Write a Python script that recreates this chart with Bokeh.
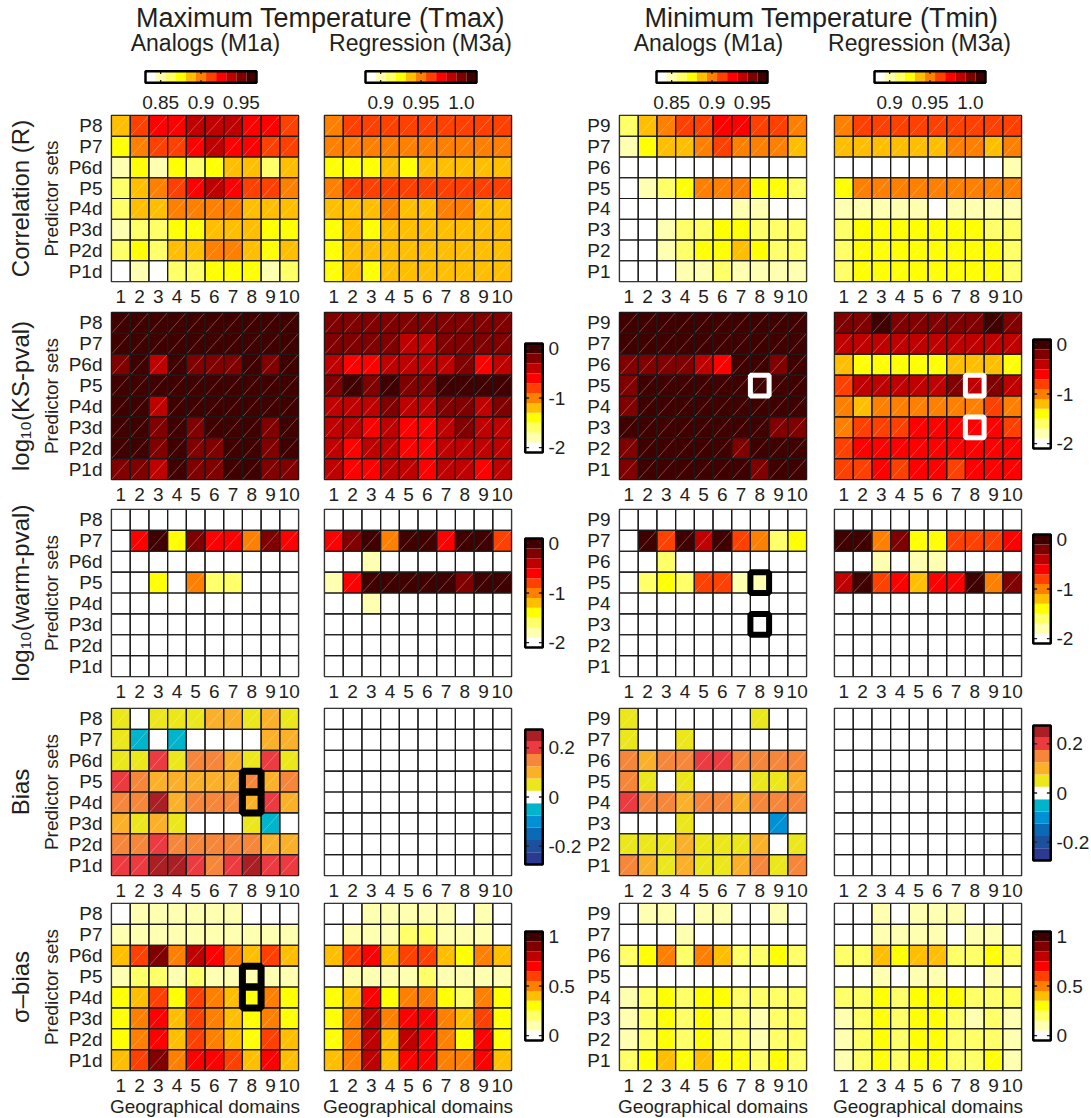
import numpy as np
from bokeh.plotting import figure
from bokeh.models import (Range1d, FixedTicker, Title, Label, Spacer,
                          LinearColorMapper, ColumnDataSource)
from bokeh.layouts import row, column
from bokeh.transform import transform
from bokeh.embed import file_html
from bokeh.resources import INLINE

FONT = "Liberation Sans"
TXT = "#231f20"

# ---------------- data ----------------
domains = [1, 2, 3, 4, 5, 6, 7, 8, 9, 10]
sets_tmax = ["P8", "P7", "P6d", "P5", "P4d", "P3d", "P2d", "P1d"]   # top -> bottom
sets_tmin = ["P9", "P7", "P6", "P5", "P4", "P3", "P2", "P1"]

# Correlation (R)
tmax_corr_analog = [
    [0.887, 0.912, 0.925, 0.925, 0.937, 0.937, 0.937, 0.925, 0.925, 0.912],
    [0.875, 0.900, 0.912, 0.912, 0.925, 0.937, 0.925, 0.925, 0.912, 0.912],
    [0.850, 0.875, 0.850, 0.875, 0.862, 0.875, 0.887, 0.887, 0.862, 0.887],
    [0.862, 0.887, 0.900, 0.912, 0.925, 0.937, 0.925, 0.912, 0.912, 0.900],
    [0.862, 0.887, 0.887, 0.900, 0.900, 0.900, 0.900, 0.887, 0.887, 0.887],
    [0.850, 0.862, 0.862, 0.875, 0.875, 0.887, 0.887, 0.887, 0.875, 0.875],
    [0.862, 0.875, 0.862, 0.887, 0.887, 0.900, 0.900, 0.887, 0.875, 0.887],
    [0.835, 0.850, 0.835, 0.862, 0.862, 0.875, 0.875, 0.875, 0.850, 0.862],
]
tmax_corr_regr = [
    [0.950, 0.962, 0.962, 0.962, 0.962, 0.962, 0.962, 0.962, 0.962, 0.962],
    [0.950, 0.950, 0.950, 0.950, 0.950, 0.950, 0.950, 0.950, 0.950, 0.950],
    [0.925, 0.925, 0.925, 0.937, 0.925, 0.937, 0.937, 0.937, 0.937, 0.937],
    [0.950, 0.962, 0.962, 0.962, 0.962, 0.962, 0.962, 0.962, 0.962, 0.962],
    [0.937, 0.937, 0.937, 0.950, 0.937, 0.937, 0.950, 0.950, 0.937, 0.937],
    [0.925, 0.937, 0.925, 0.937, 0.937, 0.937, 0.937, 0.937, 0.937, 0.937],
    [0.925, 0.937, 0.937, 0.937, 0.937, 0.937, 0.937, 0.937, 0.937, 0.937],
    [0.925, 0.937, 0.925, 0.937, 0.937, 0.937, 0.937, 0.937, 0.937, 0.937],
]
tmin_corr_analog = [
    [0.862, 0.887, 0.900, 0.912, 0.912, 0.925, 0.925, 0.912, 0.912, 0.900],
    [0.850, 0.875, 0.887, 0.887, 0.900, 0.912, 0.900, 0.900, 0.900, 0.887],
    [0.835, 0.835, 0.835, 0.835, 0.835, 0.835, 0.835, 0.835, 0.835, 0.835],
    [0.835, 0.850, 0.862, 0.875, 0.900, 0.900, 0.900, 0.875, 0.875, 0.862],
    [0.835, 0.835, 0.835, 0.835, 0.835, 0.835, 0.850, 0.850, 0.835, 0.835],
    [0.835, 0.835, 0.850, 0.862, 0.862, 0.875, 0.875, 0.862, 0.862, 0.862],
    [0.835, 0.835, 0.850, 0.862, 0.875, 0.875, 0.887, 0.875, 0.862, 0.862],
    [0.835, 0.835, 0.835, 0.850, 0.850, 0.862, 0.850, 0.850, 0.850, 0.850],
]
tmin_corr_regr = [
    [0.950, 0.962, 0.962, 0.962, 0.962, 0.962, 0.962, 0.962, 0.962, 0.962],
    [0.937, 0.937, 0.937, 0.937, 0.937, 0.937, 0.950, 0.950, 0.937, 0.950],
    [0.887, 0.887, 0.887, 0.887, 0.887, 0.887, 0.887, 0.887, 0.887, 0.900],
    [0.925, 0.950, 0.950, 0.950, 0.950, 0.950, 0.950, 0.950, 0.950, 0.950],
    [0.900, 0.900, 0.900, 0.900, 0.900, 0.887, 0.900, 0.900, 0.900, 0.900],
    [0.912, 0.925, 0.925, 0.925, 0.925, 0.925, 0.925, 0.925, 0.912, 0.912],
    [0.912, 0.925, 0.925, 0.925, 0.925, 0.925, 0.925, 0.925, 0.925, 0.912],
    [0.912, 0.925, 0.925, 0.925, 0.925, 0.925, 0.925, 0.925, 0.925, 0.912],
]

# log10(KS-pval)
tmax_ks_analog = [
    [-0.02, -0.03, -0.02, -0.01, -0.03, -0.02, -0.02, -0.01, -0.03, -0.02],
    [-0.03, -0.02, -0.02, -0.03, -0.02, -0.01, -0.02, -0.03, -0.02, -0.02],
    [-0.22, -0.05, -0.42, -0.04, -0.18, -0.21, -0.19, -0.06, -0.23, -0.05],
    [-0.02, -0.03, -0.04, -0.02, -0.03, -0.02, -0.04, -0.03, -0.02, -0.03],
    [-0.04, -0.05, -0.41, -0.03, -0.05, -0.04, -0.05, -0.03, -0.04, -0.05],
    [-0.05, -0.06, -0.19, -0.04, -0.21, -0.07, -0.05, -0.06, -0.22, -0.05],
    [-0.04, -0.05, -0.20, -0.05, -0.18, -0.19, -0.06, -0.05, -0.21, -0.04],
    [-0.18, -0.20, -0.38, -0.07, -0.21, -0.22, -0.06, -0.08, -0.19, -0.20],
]
tmax_ks_regr = [
    [-0.21, -0.18, -0.20, -0.22, -0.19, -0.20, -0.21, -0.18, -0.20, -0.19],
    [-0.20, -0.19, -0.22, -0.21, -0.42, -0.40, -0.20, -0.19, -0.21, -0.20],
    [-0.40, -0.62, -0.60, -0.41, -0.38, -0.42, -0.40, -0.22, -0.61, -0.39],
    [-0.20, -0.05, -0.19, -0.04, -0.21, -0.20, -0.06, -0.03, -0.05, -0.04],
    [-0.40, -0.42, -0.39, -0.21, -0.41, -0.40, -0.20, -0.22, -0.38, -0.19],
    [-0.41, -0.40, -0.60, -0.39, -0.62, -0.61, -0.42, -0.21, -0.40, -0.41],
    [-0.40, -0.60, -0.42, -0.41, -0.62, -0.60, -0.39, -0.40, -0.41, -0.42],
    [-0.42, -0.61, -0.60, -0.40, -0.41, -0.62, -0.39, -0.40, -0.60, -0.41],
]
tmin_ks_analog = [
    [-0.02, -0.03, -0.02, -0.01, -0.02, -0.03, -0.02, -0.02, -0.03, -0.02],
    [-0.03, -0.02, -0.02, -0.03, -0.02, -0.02, -0.01, -0.02, -0.03, -0.02],
    [-0.20, -0.21, -0.19, -0.22, -0.40, -0.60, -0.05, -0.06, -0.20, -0.04],
    [-0.21, -0.04, -0.05, -0.03, -0.04, -0.05, -0.06, -0.03, -0.04, -0.05],
    [-0.20, -0.05, -0.04, -0.05, -0.03, -0.04, -0.05, -0.06, -0.04, -0.05],
    [-0.06, -0.05, -0.04, -0.05, -0.06, -0.05, -0.07, -0.06, -0.22, -0.21],
    [-0.21, -0.06, -0.05, -0.06, -0.05, -0.07, -0.20, -0.06, -0.05, -0.06],
    [-0.20, -0.06, -0.07, -0.05, -0.06, -0.05, -0.07, -0.21, -0.06, -0.05],
]
tmin_ks_regr = [
    [-0.20, -0.19, -0.08, -0.21, -0.20, -0.19, -0.20, -0.21, -0.07, -0.20],
    [-0.40, -0.41, -0.39, -0.42, -0.40, -0.41, -0.40, -0.39, -0.41, -0.40],
    [-1.20, -1.40, -1.42, -1.38, -1.40, -1.41, -1.22, -1.20, -1.19, -1.40],
    [-0.80, -0.41, -0.40, -0.42, -0.39, -0.41, -0.20, -0.40, -0.21, -0.42],
    [-1.00, -1.20, -1.02, -0.98, -1.00, -1.01, -0.99, -1.00, -0.80, -1.00],
    [-1.00, -0.80, -0.82, -0.79, -0.60, -0.61, -0.60, -0.62, -0.59, -0.81],
    [-0.80, -0.60, -0.61, -0.60, -0.59, -0.60, -0.62, -0.60, -0.61, -0.60],
    [-0.81, -0.80, -0.60, -0.79, -0.61, -0.60, -0.80, -0.60, -0.62, -0.60],
]

# log10(warm-pval)
tmax_warm_analog = [
    [-2.0, -2.0, -2.0, -2.0, -2.0, -2.0, -2.0, -2.0, -2.0, -2.0],
    [-2.0, -0.6, -0.02, -1.4, -0.2, -0.6, -0.62, -1.0, -0.2, -0.6],
    [-2.0, -2.0, -2.0, -2.0, -2.0, -2.0, -2.0, -2.0, -2.0, -2.0],
    [-2.0, -2.0, -1.4, -2.0, -1.0, -1.6, -1.6, -2.0, -2.0, -2.0],
    [-2.0, -2.0, -2.0, -2.0, -2.0, -2.0, -2.0, -2.0, -2.0, -2.0],
    [-2.0, -2.0, -2.0, -2.0, -2.0, -2.0, -2.0, -2.0, -2.0, -2.0],
    [-2.0, -2.0, -2.0, -2.0, -2.0, -2.0, -2.0, -2.0, -2.0, -2.0],
    [-2.0, -2.0, -2.0, -2.0, -2.0, -2.0, -2.0, -2.0, -2.0, -2.0],
]
tmax_warm_regr = [
    [-2.0, -2.0, -2.0, -2.0, -2.0, -2.0, -2.0, -2.0, -2.0, -2.0],
    [-0.6, -0.2, -0.03, -1.0, -0.04, -0.05, -0.6, -0.03, -0.02, -0.8],
    [-2.0, -2.0, -1.8, -2.0, -2.0, -2.0, -2.0, -2.0, -2.0, -2.0],
    [-1.8, -0.6, -0.03, -0.02, -0.04, -0.03, -0.05, -0.2, -0.04, -0.03],
    [-2.0, -2.0, -1.8, -2.0, -2.0, -2.0, -2.0, -2.0, -2.0, -2.0],
    [-2.0, -2.0, -2.0, -2.0, -2.0, -2.0, -2.0, -2.0, -2.0, -2.0],
    [-2.0, -2.0, -2.0, -2.0, -2.0, -2.0, -2.0, -2.0, -2.0, -2.0],
    [-2.0, -2.0, -2.0, -2.0, -2.0, -2.0, -2.0, -2.0, -2.0, -2.0],
]
tmin_warm_analog = [
    [-2.0, -2.0, -2.0, -2.0, -2.0, -2.0, -2.0, -2.0, -2.0, -2.0],
    [-2.0, -0.03, -0.8, -0.02, -0.4, -0.04, -0.8, -1.0, -1.6, -1.4],
    [-2.0, -2.0, -1.6, -2.0, -2.0, -2.0, -2.0, -2.0, -2.0, -2.0],
    [-2.0, -1.6, -1.4, -1.6, -0.8, -0.8, -1.8, -1.8, -2.0, -2.0],
    [-2.0, -2.0, -2.0, -2.0, -2.0, -2.0, -2.0, -2.0, -2.0, -2.0],
    [-2.0, -2.0, -2.0, -2.0, -2.0, -2.0, -2.0, -2.0, -2.0, -2.0],
    [-2.0, -2.0, -2.0, -2.0, -2.0, -2.0, -2.0, -2.0, -2.0, -2.0],
    [-2.0, -2.0, -2.0, -2.0, -2.0, -2.0, -2.0, -2.0, -2.0, -2.0],
]
tmin_warm_regr = [
    [-2.0, -2.0, -2.0, -2.0, -2.0, -2.0, -2.0, -2.0, -2.0, -2.0],
    [-0.02, -0.04, -1.0, -0.2, -1.4, -1.4, -0.8, -0.8, -0.8, -0.6],
    [-2.0, -2.0, -1.8, -2.0, -1.8, -1.8, -2.0, -2.0, -2.0, -2.0],
    [-0.4, -0.03, -0.8, -0.6, -1.2, -0.6, -0.6, -0.04, -1.0, -0.2],
    [-2.0, -2.0, -2.0, -2.0, -2.0, -2.0, -2.0, -2.0, -2.0, -2.0],
    [-2.0, -2.0, -2.0, -2.0, -2.0, -2.0, -2.0, -2.0, -2.0, -2.0],
    [-2.0, -2.0, -2.0, -2.0, -2.0, -2.0, -2.0, -2.0, -2.0, -2.0],
    [-2.0, -2.0, -2.0, -2.0, -2.0, -2.0, -2.0, -2.0, -2.0, -2.0],
]

# Bias
tmax_bias_analog = [
    [0.05, 0.00, 0.05, 0.05, 0.05, 0.10, 0.10, 0.05, 0.10, 0.05],
    [0.05, -0.05, 0.00, -0.05, 0.00, 0.00, 0.00, 0.00, 0.10, 0.10],
    [0.05, 0.05, 0.20, 0.05, 0.15, 0.15, 0.10, 0.05, 0.20, 0.05],
    [0.20, 0.15, 0.10, 0.10, 0.10, 0.10, 0.10, 0.15, 0.10, 0.15],
    [0.15, 0.15, 0.25, 0.10, 0.15, 0.15, 0.15, 0.10, 0.20, 0.10],
    [0.10, 0.05, 0.10, 0.05, 0.00, 0.00, 0.00, 0.05, -0.05, 0.00],
    [0.15, 0.15, 0.20, 0.15, 0.15, 0.15, 0.15, 0.15, 0.10, 0.10],
    [0.20, 0.20, 0.25, 0.25, 0.20, 0.15, 0.20, 0.25, 0.20, 0.20],
]
tmax_bias_regr = [
    [0.00, 0.00, 0.00, 0.00, 0.00, 0.00, 0.00, 0.00, 0.00, 0.00],
    [0.00, 0.00, 0.00, 0.00, 0.00, 0.00, 0.00, 0.00, 0.00, 0.00],
    [0.00, 0.00, 0.00, 0.00, 0.00, 0.00, 0.00, 0.00, 0.00, 0.00],
    [0.00, 0.00, 0.00, 0.00, 0.00, 0.00, 0.00, 0.00, 0.00, 0.00],
    [0.00, 0.00, 0.00, 0.00, 0.00, 0.00, 0.00, 0.00, 0.00, 0.00],
    [0.00, 0.00, 0.00, 0.00, 0.00, 0.00, 0.00, 0.00, 0.00, 0.00],
    [0.00, 0.00, 0.00, 0.00, 0.00, 0.00, 0.00, 0.00, 0.00, 0.00],
    [0.00, 0.00, 0.00, 0.00, 0.00, 0.00, 0.00, 0.00, 0.00, 0.00],
]
tmin_bias_analog = [
    [0.05, 0.00, 0.00, 0.00, 0.00, 0.00, 0.00, 0.05, 0.00, 0.00],
    [0.05, 0.00, 0.00, 0.05, 0.00, 0.00, 0.00, 0.00, 0.00, 0.00],
    [0.15, 0.10, 0.15, 0.15, 0.20, 0.20, 0.15, 0.15, 0.15, 0.15],
    [0.15, 0.05, 0.00, 0.05, 0.00, 0.00, 0.00, 0.05, 0.05, 0.10],
    [0.20, 0.15, 0.15, 0.10, 0.15, 0.15, 0.10, 0.15, 0.15, 0.15],
    [0.00, 0.00, 0.00, 0.05, 0.00, 0.00, 0.00, 0.00, -0.10, 0.00],
    [0.05, 0.05, 0.05, 0.10, 0.05, 0.05, 0.05, 0.10, 0.00, 0.05],
    [0.15, 0.10, 0.05, 0.10, 0.05, 0.05, 0.10, 0.15, 0.05, 0.15],
]
tmin_bias_regr = [
    [0.00, 0.00, 0.00, 0.00, 0.00, 0.00, 0.00, 0.00, 0.00, 0.00],
    [0.00, 0.00, 0.00, 0.00, 0.00, 0.00, 0.00, 0.00, 0.00, 0.00],
    [0.00, 0.00, 0.00, 0.00, 0.00, 0.00, 0.00, 0.00, 0.00, 0.00],
    [0.00, 0.00, 0.00, 0.00, 0.00, 0.00, 0.00, 0.00, 0.00, 0.00],
    [0.00, 0.00, 0.00, 0.00, 0.00, 0.00, 0.00, 0.00, 0.00, 0.00],
    [0.00, 0.00, 0.00, 0.00, 0.00, 0.00, 0.00, 0.00, 0.00, 0.00],
    [0.00, 0.00, 0.00, 0.00, 0.00, 0.00, 0.00, 0.00, 0.00, 0.00],
    [0.00, 0.00, 0.00, 0.00, 0.00, 0.00, 0.00, 0.00, 0.00, 0.00],
]

# sigma-bias
tmax_sig_analog = [
    [0.0, 0.1, 0.1, 0.1, 0.1, 0.1, 0.1, 0.0, 0.0, 0.0],
    [0.1, 0.1, 0.1, 0.1, 0.1, 0.1, 0.1, 0.1, 0.1, 0.1],
    [0.4, 0.6, 0.9, 0.5, 0.8, 0.7, 0.5, 0.4, 0.6, 0.4],
    [0.1, 0.2, 0.2, 0.1, 0.2, 0.1, 0.1, 0.1, 0.1, 0.1],
    [0.3, 0.4, 0.6, 0.3, 0.6, 0.5, 0.4, 0.3, 0.5, 0.3],
    [0.3, 0.5, 0.7, 0.4, 0.6, 0.5, 0.4, 0.3, 0.5, 0.3],
    [0.3, 0.5, 0.7, 0.4, 0.6, 0.5, 0.4, 0.3, 0.6, 0.4],
    [0.4, 0.6, 0.9, 0.5, 0.7, 0.7, 0.6, 0.4, 0.7, 0.4],
]
tmax_sig_regr = [
    [0.0, 0.0, 0.1, 0.1, 0.1, 0.1, 0.1, 0.0, 0.1, 0.0],
    [0.0, 0.1, 0.1, 0.1, 0.2, 0.2, 0.1, 0.1, 0.1, 0.0],
    [0.4, 0.6, 0.7, 0.4, 0.6, 0.6, 0.4, 0.3, 0.5, 0.4],
    [0.0, 0.1, 0.1, 0.1, 0.1, 0.2, 0.1, 0.1, 0.1, 0.1],
    [0.3, 0.4, 0.7, 0.3, 0.5, 0.5, 0.3, 0.2, 0.5, 0.3],
    [0.3, 0.5, 0.8, 0.5, 0.7, 0.7, 0.5, 0.4, 0.6, 0.3],
    [0.3, 0.5, 0.8, 0.4, 0.8, 0.7, 0.5, 0.3, 0.7, 0.3],
    [0.4, 0.5, 0.8, 0.4, 0.7, 0.7, 0.5, 0.5, 0.7, 0.4],
]
tmin_sig_analog = [
    [0.0, 0.1, 0.1, 0.0, 0.1, 0.1, 0.0, 0.0, 0.1, 0.0],
    [0.0, 0.0, 0.0, 0.1, 0.0, 0.0, 0.0, 0.0, 0.0, 0.0],
    [0.2, 0.3, 0.5, 0.2, 0.5, 0.4, 0.2, 0.2, 0.3, 0.2],
    [0.0, 0.0, 0.0, 0.0, 0.0, 0.0, 0.0, 0.0, 0.0, 0.0],
    [0.1, 0.2, 0.3, 0.2, 0.3, 0.3, 0.2, 0.2, 0.2, 0.2],
    [0.1, 0.2, 0.3, 0.2, 0.3, 0.2, 0.2, 0.1, 0.2, 0.2],
    [0.1, 0.2, 0.3, 0.2, 0.3, 0.2, 0.2, 0.1, 0.2, 0.2],
    [0.2, 0.3, 0.4, 0.3, 0.4, 0.3, 0.3, 0.2, 0.3, 0.2],
]
tmin_sig_regr = [
    [0.0, 0.0, 0.1, 0.0, 0.1, 0.1, 0.1, 0.0, 0.0, 0.0],
    [0.0, 0.0, 0.1, 0.1, 0.1, 0.1, 0.0, 0.1, 0.1, 0.0],
    [0.2, 0.2, 0.4, 0.3, 0.4, 0.4, 0.2, 0.2, 0.3, 0.2],
    [0.0, 0.0, 0.1, 0.0, 0.1, 0.1, 0.0, 0.0, 0.1, 0.0],
    [0.2, 0.2, 0.3, 0.2, 0.3, 0.3, 0.3, 0.2, 0.2, 0.2],
    [0.1, 0.2, 0.3, 0.2, 0.3, 0.3, 0.2, 0.1, 0.2, 0.1],
    [0.1, 0.2, 0.3, 0.2, 0.3, 0.3, 0.2, 0.2, 0.2, 0.1],
    [0.1, 0.2, 0.3, 0.2, 0.3, 0.3, 0.2, 0.2, 0.3, 0.1],
]

# highlighted cells: (domain, predictor set, colour, line width)
marks_tmin_ks_analog = [(8, "P5", "white", 5)]
marks_tmin_ks_regr = [(8, "P5", "white", 5), (8, "P3", "white", 5)]
marks_tmin_warm_analog = [(8, "P5", "black", 6), (8, "P3", "black", 6)]
marks_tmax_bias_analog = [(8, "P5", "black", 7), (8, "P4d", "black", 7)]
marks_tmax_sig_analog = [(8, "P5", "black", 7), (8, "P4d", "black", 7)]

# colour bar ticks
corrA_ticks, corrA_labels = [0.85, 0.9, 0.95], ["0.85", "0.9", "0.95"]
corrR_ticks, corrR_labels = [0.9, 0.95, 1.0], ["0.9", "0.95", "1.0"]
p_ticks, p_labels = [-2, -1, 0], ["-2", "-1", "0"]
bias_ticks, bias_labels = [-0.2, 0, 0.2], ["-0.2", "0", "0.2"]
sig_ticks, sig_labels = [0, 0.5, 1], ["0", "0.5", "1"]

# ---------------- styling ----------------
HOT = ["#ffffff", "#ffffb0", "#ffff66", "#ffff00", "#ffbf00", "#ff8000",
       "#ff4000", "#ff0000", "#bf0000", "#800000", "#400000"]
DIV = ["#2b3990", "#1c4f9c", "#0a6ab6", "#0091d5", "#00b4cb", "#ffffff",
       "#ebe71a", "#fbb02a", "#f6863a", "#ec3b40", "#a91f24"]

m_corrA = LinearColorMapper(palette=HOT, low=0.83125, high=0.96875)
m_corrR = LinearColorMapper(palette=HOT, low=0.88125, high=1.01875)
m_p = LinearColorMapper(palette=HOT, low=-2.1, high=0.1)
m_bias = LinearColorMapper(palette=DIV, low=-0.275, high=0.275)
m_sig = LinearColorMapper(palette=HOT, low=-0.05, high=1.05)


def style_axis(ax, size="19px"):
    ax.major_label_text_font = FONT
    ax.major_label_text_font_size = size
    ax.major_label_text_color = TXT
    ax.major_tick_line_color = None
    ax.minor_tick_line_color = None
    ax.major_tick_out = 0
    ax.major_tick_in = 0
    ax.minor_tick_out = 0
    ax.minor_tick_in = 0
    ax.axis_line_color = None


def heat(vals, sets, mapper, ml, mr, mt, fh, mb, show_y=False, rowtitle=None,
         xlabel=None, marks=()):
    n = len(sets)
    p = figure(frame_width=187, frame_height=fh,
               x_range=Range1d(0.5, 10.5), y_range=Range1d(0.5, n + 0.5),
               min_border_left=ml, min_border_right=mr, min_border_top=mt, min_border_bottom=mb,
               x_axis_location="below", y_axis_location=("left" if show_y else None),
               toolbar_location=None, output_backend="svg")
    p.xgrid.visible = False
    p.ygrid.visible = False
    p.outline_line_color = "#1a1a1a"
    p.outline_line_width = 1.5
    xs, ys, vs = [], [], []
    for i, s in enumerate(sets):
        for j, d in enumerate(domains):
            xs.append(d)
            ys.append(n - i)
            vs.append(vals[i][j])
    src = ColumnDataSource(dict(x=xs, y=ys, v=vs,
                                x0=[x - 0.5 for x in xs], y0=[y - 0.5 for y in ys],
                                x1=[x + 0.5 for x in xs], y1=[y + 0.5 for y in ys]))
    p.rect("x", "y", 1, 1, source=src, fill_color=transform("v", mapper), line_color=None)
    p.segment("x0", "y0", "x1", "y1", source=src, line_color="white", line_alpha=0.4, line_width=0.7)
    p.rect("x", "y", 1, 1, source=src, fill_color=None, line_color="#1a1a1a", line_width=1.2)
    for (d, s, c, lw) in marks:
        p.rect(x=[d], y=[n - sets.index(s)], width=1, height=1, fill_color=None,
               line_color=c, line_width=lw)
    xa = p.xaxis[0]
    xa.ticker = FixedTicker(ticks=domains)
    style_axis(xa)
    xa.major_label_standoff = 8
    if xlabel:
        xa.axis_label = xlabel
        xa.axis_label_text_font = FONT
        xa.axis_label_text_font_size = "19px"
        xa.axis_label_text_font_style = "normal"
        xa.axis_label_text_color = TXT
        xa.axis_label_standoff = 1
    if show_y:
        ya = p.yaxis[0]
        ya.ticker = FixedTicker(ticks=list(range(1, n + 1)))
        ya.major_label_overrides = {n - i: s for i, s in enumerate(sets)}
        style_axis(ya)
        ya.major_label_standoff = 9
        if rowtitle:
            ya.axis_label = "Predictor sets"
            ya.axis_label_text_font = FONT
            ya.axis_label_text_font_size = "19px"
            ya.axis_label_text_font_style = "normal"
            ya.axis_label_text_color = TXT
            ya.axis_label_standoff = 4
    if rowtitle:
        p.add_layout(Title(text=rowtitle, align="center", text_font=FONT, text_font_size="24px",
                           text_font_style="normal", text_color=TXT, standoff=8), "left")
    return p


def vcb(mapper, ticks, labels, row_top, mt, fh, mb, bar_top, h, left, right):
    """Vertical colour bar in a frame as tall as the heat maps (keeps row frames aligned)."""
    low, high = mapper.low, mapper.high
    pad = 0.1
    upp = (high - low) / h
    rel_top = bar_top - (row_top + mt)
    gap_bottom = fh - rel_top - h
    p = figure(frame_width=21, frame_height=fh, x_range=Range1d(-pad, 1 + pad),
               y_range=Range1d(low - gap_bottom * upp, high + rel_top * upp),
               min_border_left=left, min_border_right=right, min_border_top=mt, min_border_bottom=mb,
               x_axis_location=None, y_axis_location="right",
               toolbar_location=None, output_backend="svg")
    p.xgrid.visible = False
    p.ygrid.visible = False
    p.outline_line_color = None
    pal = list(mapper.palette)
    edges = np.linspace(low, high, len(pal) + 1).tolist()
    p.quad(left=0, right=1, bottom=edges[:-1], top=edges[1:], fill_color=pal, line_color=None)
    p.segment(x0=0, x1=0.22, y0=ticks, y1=ticks, line_color="#222222", line_width=1.3)
    p.segment(x0=0.78, x1=1, y0=ticks, y1=ticks, line_color="#222222", line_width=1.3)
    p.quad(left=0, right=1, bottom=low, top=high, fill_color=None, line_color="black", line_width=2.5)
    ya = p.yaxis[0]
    ya.ticker = FixedTicker(ticks=ticks)
    ya.major_label_overrides = dict(zip(ticks, labels))
    style_axis(ya)
    ya.major_label_standoff = 4
    return p


def hcb(mapper, ticks, labels):
    low, high = mapper.low, mapper.high
    padx = 2 * (high - low) / 111
    p = figure(frame_width=115, frame_height=15, x_range=Range1d(low - padx, high + padx),
               y_range=Range1d(-0.15, 1.15),
               min_border_left=13, min_border_right=13, min_border_top=13, min_border_bottom=27,
               x_axis_location="below", y_axis_location=None,
               toolbar_location=None, output_backend="svg")
    p.xgrid.visible = False
    p.ygrid.visible = False
    p.outline_line_color = None
    pal = list(mapper.palette)
    edges = np.linspace(low, high, len(pal) + 1).tolist()
    p.quad(left=edges[:-1], right=edges[1:], bottom=0, top=1, fill_color=pal, line_color=None)
    p.segment(x0=ticks, x1=ticks, y0=0, y1=0.25, line_color="#222222", line_width=1.3)
    p.segment(x0=ticks, x1=ticks, y0=0.75, y1=1, line_color="#222222", line_width=1.3)
    p.quad(left=low, right=high, bottom=0, top=1, fill_color=None, line_color="black", line_width=2.5)
    xa = p.xaxis[0]
    xa.ticker = FixedTicker(ticks=ticks)
    xa.major_label_overrides = dict(zip(ticks, labels))
    style_axis(xa)
    xa.major_label_standoff = 11
    return p


# ---------------- header ----------------
HEADER_H = 56
header = figure(frame_width=1091, frame_height=HEADER_H, x_range=Range1d(0, 1091),
                y_range=Range1d(HEADER_H, 0),
                min_border=0, x_axis_location=None, y_axis_location=None,
                toolbar_location=None, output_backend="svg")
header.xgrid.visible = False
header.ygrid.visible = False
header.outline_line_color = None
for (tx, x, y, sz) in [("Maximum Temperature (Tmax)", 320, 17, "27px"),
                       ("Analogs (M1a)", 205, 42, "23px"),
                       ("Regression (M3a)", 420, 42, "23px"),
                       ("Minimum Temperature (Tmin)", 821, 17, "27px"),
                       ("Analogs (M1a)", 708, 42, "23px"),
                       ("Regression (M3a)", 919, 42, "23px")]:
    header.add_layout(Label(x=x, y=y, text=tx, text_align="center", text_baseline="middle",
                            text_font=FONT, text_font_size=sz, text_color=TXT))

cb_row = row(Spacer(width=130, height=55), hcb(m_corrA, corrA_ticks, corrA_labels),
             Spacer(width=79, height=55), hcb(m_corrR, corrR_ticks, corrR_labels),
             Spacer(width=150, height=55), hcb(m_corrA, corrA_ticks, corrA_labels),
             Spacer(width=77, height=55), hcb(m_corrR, corrR_ticks, corrR_labels),
             Spacer(width=91, height=55))

# horizontal budget (px): fig1 108+187+10 | fig2 16+187+3 | cbA 9+21+40 | fig3 33+187+10 | fig4 18+187+3 | cbB 7+21+44


def panel_row(vals4, mappers4, rowtitle, geom, cb=None, xlabel=None, marks4=None):
    row_top, mt, fh, mb = geom
    total = mt + fh + mb
    m4 = marks4 if marks4 else [(), (), (), ()]
    f1 = heat(vals4[0], sets_tmax, mappers4[0], 108, 10, mt, fh, mb, show_y=True,
              rowtitle=rowtitle, xlabel=xlabel, marks=m4[0])
    f2 = heat(vals4[1], sets_tmax, mappers4[1], 16, 3, mt, fh, mb, xlabel=xlabel, marks=m4[1])
    f3 = heat(vals4[2], sets_tmin, mappers4[2], 33, 10, mt, fh, mb, show_y=True,
              xlabel=xlabel, marks=m4[2])
    f4 = heat(vals4[3], sets_tmin, mappers4[3], 18, 3, mt, fh, mb, xlabel=xlabel, marks=m4[3])
    if cb is None:
        cA = Spacer(width=70, height=total)
        cB = Spacer(width=72, height=total)
    else:
        mp, tk, lb, topA, topB, h = cb
        cA = vcb(mp, tk, lb, row_top, mt, fh, mb, topA, h, 9, 40)
        cB = vcb(mp, tk, lb, row_top, mt, fh, mb, topB, h, 7, 44)
    return row(f1, f2, cA, f3, f4, cB)


# (row top, top border, frame height, bottom border)
g1 = (111, 4, 166, 27)
g2 = (308, 4, 167, 26)
g3 = (505, 4, 167, 26)
g4 = (702, 6, 167, 24)
g5 = (899, 4, 167, 46)

r1 = panel_row([tmax_corr_analog, tmax_corr_regr, tmin_corr_analog, tmin_corr_regr],
               [m_corrA, m_corrR, m_corrA, m_corrR], "Correlation (R)", g1)
r2 = panel_row([tmax_ks_analog, tmax_ks_regr, tmin_ks_analog, tmin_ks_regr],
               [m_p, m_p, m_p, m_p], "log\u2081\u2080(KS-pval)", g2,
               cb=(m_p, p_ticks, p_labels, 343, 339, 109),
               marks4=[(), (), marks_tmin_ks_analog, marks_tmin_ks_regr])
r3 = panel_row([tmax_warm_analog, tmax_warm_regr, tmin_warm_analog, tmin_warm_regr],
               [m_p, m_p, m_p, m_p], "log\u2081\u2080(warm-pval)", g3,
               cb=(m_p, p_ticks, p_labels, 538, 534, 109),
               marks4=[(), (), marks_tmin_warm_analog, ()])
r4 = panel_row([tmax_bias_analog, tmax_bias_regr, tmin_bias_analog, tmin_bias_regr],
               [m_bias, m_bias, m_bias, m_bias], "Bias", g4,
               cb=(m_bias, bias_ticks, bias_labels, 729, 725, 135),
               marks4=[marks_tmax_bias_analog, (), (), ()])
r5 = panel_row([tmax_sig_analog, tmax_sig_regr, tmin_sig_analog, tmin_sig_regr],
               [m_sig, m_sig, m_sig, m_sig], "\u03c3\u2013bias", g5,
               cb=(m_sig, sig_ticks, sig_labels, 931, 931, 109),
               xlabel="Geographical domains", marks4=[marks_tmax_sig_analog, (), (), ()])

layout = column(header, cb_row, r1, r2, r3, r4, r5)

open("out.html", "w").write(file_html(layout, INLINE))
